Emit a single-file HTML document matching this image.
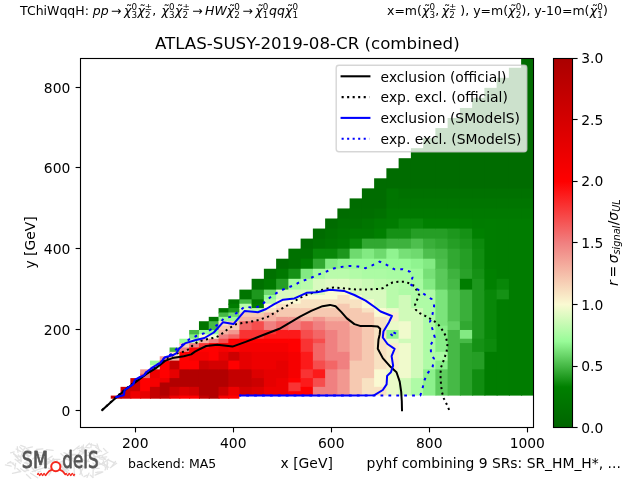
<!DOCTYPE html>
<html lang="en"><head><meta charset="utf-8"><title>ATLAS-SUSY-2019-08-CR (combined)</title>
<style>html,body{margin:0;padding:0;background:#fff;overflow:hidden}svg{display:block}text{font-family:'DejaVu Sans','Liberation Sans',sans-serif}</style></head><body>
<svg width="640" height="480" viewBox="0 0 640 480">
<rect x="0" y="0" width="640" height="480" fill="#fff"/>
<defs><clipPath id="axclip"><rect x="80.5" y="58.5" width="453" height="369"/></clipPath></defs>
<g clip-path="url(#axclip)">
<rect x="110.75" y="395.60" width="10.80" height="3.10" fill="#c40000"/>
<rect x="120.55" y="386.85" width="10.80" height="11.85" fill="#cc0000"/>
<rect x="130.35" y="378.10" width="10.80" height="14.12" fill="#cc0000"/>
<rect x="130.35" y="391.23" width="10.80" height="7.47" fill="#ee0000"/>
<rect x="140.15" y="369.35" width="10.80" height="5.38" fill="#f29890"/>
<rect x="140.15" y="373.73" width="10.80" height="5.38" fill="#f36666"/>
<rect x="140.15" y="378.10" width="10.80" height="14.12" fill="#ff0000"/>
<rect x="140.15" y="391.23" width="10.80" height="7.47" fill="#e60000"/>
<rect x="149.95" y="360.60" width="10.80" height="5.38" fill="#98fb98"/>
<rect x="149.95" y="364.98" width="10.80" height="5.38" fill="#d9fabf"/>
<rect x="149.95" y="369.35" width="10.80" height="9.75" fill="#ee0000"/>
<rect x="149.95" y="378.10" width="10.80" height="9.75" fill="#f60000"/>
<rect x="149.95" y="386.85" width="10.80" height="11.85" fill="#c40000"/>
<rect x="159.75" y="356.23" width="10.80" height="5.38" fill="#f29890"/>
<rect x="159.75" y="360.60" width="10.80" height="18.50" fill="#ff0000"/>
<rect x="159.75" y="378.10" width="10.80" height="5.38" fill="#ee0000"/>
<rect x="159.75" y="382.48" width="10.80" height="14.12" fill="#b20000"/>
<rect x="159.75" y="395.60" width="10.80" height="3.10" fill="#c40000"/>
<rect x="169.55" y="347.48" width="10.80" height="5.38" fill="#46b946"/>
<rect x="169.55" y="351.85" width="10.80" height="5.38" fill="#f8e2c2"/>
<rect x="169.55" y="356.23" width="10.80" height="5.38" fill="#f4b1a1"/>
<rect x="169.55" y="360.60" width="10.80" height="9.75" fill="#c40000"/>
<rect x="169.55" y="369.35" width="10.80" height="9.75" fill="#e60000"/>
<rect x="169.55" y="378.10" width="10.80" height="9.75" fill="#b20000"/>
<rect x="169.55" y="386.85" width="10.80" height="9.75" fill="#cc0000"/>
<rect x="169.55" y="395.60" width="10.80" height="3.10" fill="#ee0000"/>
<rect x="179.35" y="338.73" width="10.80" height="5.38" fill="#98fb98"/>
<rect x="179.35" y="343.10" width="10.80" height="5.38" fill="#f6c9b1"/>
<rect x="179.35" y="347.48" width="10.80" height="5.38" fill="#f08080"/>
<rect x="179.35" y="351.85" width="10.80" height="18.50" fill="#ff0000"/>
<rect x="179.35" y="369.35" width="10.80" height="18.50" fill="#b20000"/>
<rect x="179.35" y="386.85" width="10.80" height="9.75" fill="#dd0000"/>
<rect x="179.35" y="395.60" width="10.80" height="3.10" fill="#ff0000"/>
<rect x="189.15" y="329.98" width="10.80" height="5.38" fill="#46b946"/>
<rect x="189.15" y="334.35" width="10.80" height="5.38" fill="#83ea83"/>
<rect x="189.15" y="338.73" width="10.80" height="5.38" fill="#c9fab5"/>
<rect x="189.15" y="343.10" width="10.80" height="5.38" fill="#f08080"/>
<rect x="189.15" y="347.48" width="10.80" height="5.38" fill="#ff0000"/>
<rect x="189.15" y="351.85" width="10.80" height="9.75" fill="#f60000"/>
<rect x="189.15" y="360.60" width="10.80" height="9.75" fill="#ff0000"/>
<rect x="189.15" y="369.35" width="10.80" height="18.50" fill="#b20000"/>
<rect x="189.15" y="386.85" width="10.80" height="9.75" fill="#d40000"/>
<rect x="189.15" y="395.60" width="10.80" height="3.10" fill="#ff0000"/>
<rect x="198.95" y="321.23" width="10.80" height="9.75" fill="#007500"/>
<rect x="198.95" y="329.98" width="10.80" height="5.38" fill="#98fb98"/>
<rect x="198.95" y="334.35" width="10.80" height="5.38" fill="#fafad2"/>
<rect x="198.95" y="338.73" width="10.80" height="5.38" fill="#f4b1a1"/>
<rect x="198.95" y="343.10" width="10.80" height="5.38" fill="#f93333"/>
<rect x="198.95" y="347.48" width="10.80" height="5.38" fill="#ff0000"/>
<rect x="198.95" y="351.85" width="10.80" height="9.75" fill="#f60000"/>
<rect x="198.95" y="360.60" width="10.80" height="9.75" fill="#cc0000"/>
<rect x="198.95" y="369.35" width="10.80" height="27.25" fill="#b20000"/>
<rect x="198.95" y="395.60" width="10.80" height="3.10" fill="#c40000"/>
<rect x="208.75" y="316.85" width="10.80" height="5.38" fill="#007500"/>
<rect x="208.75" y="321.23" width="10.80" height="9.75" fill="#46b946"/>
<rect x="208.75" y="329.98" width="10.80" height="5.38" fill="#98fb98"/>
<rect x="208.75" y="334.35" width="10.80" height="5.38" fill="#fafad2"/>
<rect x="208.75" y="338.73" width="10.80" height="5.38" fill="#f08080"/>
<rect x="208.75" y="343.10" width="10.80" height="18.50" fill="#ff0000"/>
<rect x="208.75" y="360.60" width="10.80" height="9.75" fill="#d40000"/>
<rect x="208.75" y="369.35" width="10.80" height="29.35" fill="#b20000"/>
<rect x="218.55" y="308.10" width="10.80" height="5.38" fill="#007500"/>
<rect x="218.55" y="312.48" width="10.80" height="5.38" fill="#46b946"/>
<rect x="218.55" y="316.85" width="10.80" height="5.38" fill="#98fb98"/>
<rect x="218.55" y="321.23" width="10.80" height="5.38" fill="#f8e2c2"/>
<rect x="218.55" y="325.60" width="10.80" height="5.38" fill="#f6c9b1"/>
<rect x="218.55" y="329.98" width="10.80" height="5.38" fill="#f4b1a1"/>
<rect x="218.55" y="334.35" width="10.80" height="5.38" fill="#f08080"/>
<rect x="218.55" y="338.73" width="10.80" height="5.38" fill="#f64d4d"/>
<rect x="218.55" y="343.10" width="10.80" height="9.75" fill="#f60000"/>
<rect x="218.55" y="351.85" width="10.80" height="9.75" fill="#e60000"/>
<rect x="218.55" y="360.60" width="10.80" height="9.75" fill="#d40000"/>
<rect x="218.55" y="369.35" width="10.80" height="18.50" fill="#b20000"/>
<rect x="218.55" y="386.85" width="10.80" height="9.75" fill="#cc0000"/>
<rect x="218.55" y="395.60" width="10.80" height="3.10" fill="#f60000"/>
<rect x="228.35" y="299.35" width="12.03" height="5.38" fill="#007500"/>
<rect x="228.35" y="303.73" width="12.03" height="5.38" fill="#007d00"/>
<rect x="228.35" y="308.10" width="12.03" height="5.38" fill="#1d971d"/>
<rect x="228.35" y="312.48" width="12.03" height="5.38" fill="#6fda6f"/>
<rect x="228.35" y="316.85" width="12.03" height="5.38" fill="#98fb98"/>
<rect x="228.35" y="321.23" width="12.03" height="9.75" fill="#f6c9b1"/>
<rect x="228.35" y="329.98" width="12.03" height="5.38" fill="#f29890"/>
<rect x="228.35" y="334.35" width="12.03" height="5.38" fill="#f36666"/>
<rect x="228.35" y="338.73" width="12.03" height="14.12" fill="#ff0000"/>
<rect x="228.35" y="351.85" width="12.03" height="9.75" fill="#cc0000"/>
<rect x="228.35" y="360.60" width="12.03" height="9.75" fill="#ff0000"/>
<rect x="228.35" y="369.35" width="12.03" height="18.50" fill="#c40000"/>
<rect x="228.35" y="386.85" width="12.03" height="9.75" fill="#ee0000"/>
<rect x="228.35" y="395.59" width="11.03" height="3.11" fill="#ff0000"/>
<rect x="228.35" y="395.60" width="12.03" height="0.00" fill="#ff0000"/>
<rect x="239.38" y="289.60" width="13.25" height="10.75" fill="#007500"/>
<rect x="239.38" y="299.35" width="13.25" height="5.38" fill="#46b946"/>
<rect x="239.38" y="303.73" width="13.25" height="5.38" fill="#b9fbab"/>
<rect x="239.38" y="308.10" width="13.25" height="5.38" fill="#d9fabf"/>
<rect x="239.38" y="312.48" width="13.25" height="5.38" fill="#f6c9b1"/>
<rect x="239.38" y="316.85" width="13.25" height="5.38" fill="#f4b1a1"/>
<rect x="239.38" y="321.23" width="13.25" height="9.75" fill="#f36666"/>
<rect x="239.38" y="329.98" width="13.25" height="9.75" fill="#f93333"/>
<rect x="239.38" y="338.73" width="13.25" height="5.38" fill="#ff0000"/>
<rect x="239.38" y="343.10" width="13.25" height="9.75" fill="#f60000"/>
<rect x="239.38" y="351.85" width="13.25" height="18.50" fill="#e60000"/>
<rect x="239.38" y="369.35" width="13.25" height="18.50" fill="#c40000"/>
<rect x="239.38" y="386.85" width="13.25" height="8.75" fill="#d40000"/>
<rect x="251.62" y="278.80" width="13.25" height="11.80" fill="#007100"/>
<rect x="251.62" y="289.60" width="13.25" height="10.75" fill="#1d971d"/>
<rect x="251.62" y="299.35" width="13.25" height="5.38" fill="#007500"/>
<rect x="251.62" y="303.73" width="13.25" height="5.38" fill="#007d00"/>
<rect x="251.62" y="308.10" width="13.25" height="5.38" fill="#b9fbab"/>
<rect x="251.62" y="312.48" width="13.25" height="5.38" fill="#f6c9b1"/>
<rect x="251.62" y="316.85" width="13.25" height="5.38" fill="#f4b1a1"/>
<rect x="251.62" y="321.23" width="13.25" height="9.75" fill="#f64d4d"/>
<rect x="251.62" y="329.98" width="13.25" height="9.75" fill="#f93333"/>
<rect x="251.62" y="338.73" width="13.25" height="5.38" fill="#ff0000"/>
<rect x="251.62" y="343.10" width="13.25" height="9.75" fill="#f60000"/>
<rect x="251.62" y="351.85" width="13.25" height="18.50" fill="#ee0000"/>
<rect x="251.62" y="369.35" width="13.25" height="9.75" fill="#dd0000"/>
<rect x="251.62" y="378.10" width="13.25" height="9.75" fill="#cc0000"/>
<rect x="251.62" y="386.85" width="13.25" height="8.75" fill="#dd0000"/>
<rect x="263.88" y="268.75" width="13.25" height="11.05" fill="#007100"/>
<rect x="263.88" y="278.80" width="13.25" height="11.80" fill="#007900"/>
<rect x="263.88" y="289.60" width="13.25" height="6.38" fill="#6fda6f"/>
<rect x="263.88" y="294.98" width="13.25" height="5.38" fill="#98fb98"/>
<rect x="263.88" y="299.35" width="13.25" height="5.38" fill="#b9fbab"/>
<rect x="263.88" y="303.73" width="13.25" height="5.38" fill="#fafad2"/>
<rect x="263.88" y="308.10" width="13.25" height="5.38" fill="#f8e2c2"/>
<rect x="263.88" y="312.48" width="13.25" height="9.75" fill="#f4b1a1"/>
<rect x="263.88" y="321.23" width="13.25" height="9.75" fill="#f08080"/>
<rect x="263.88" y="329.98" width="13.25" height="5.38" fill="#f93333"/>
<rect x="263.88" y="334.35" width="13.25" height="5.38" fill="#fc1a1a"/>
<rect x="263.88" y="338.73" width="13.25" height="5.38" fill="#ff0000"/>
<rect x="263.88" y="343.10" width="13.25" height="9.75" fill="#f60000"/>
<rect x="263.88" y="351.85" width="13.25" height="18.50" fill="#ee0000"/>
<rect x="263.88" y="369.35" width="13.25" height="18.50" fill="#e60000"/>
<rect x="263.88" y="386.85" width="13.25" height="8.75" fill="#ee0000"/>
<rect x="276.12" y="258.70" width="13.25" height="11.05" fill="#006c00"/>
<rect x="276.12" y="268.75" width="13.25" height="11.05" fill="#007900"/>
<rect x="276.12" y="278.80" width="13.25" height="11.80" fill="#259e25"/>
<rect x="276.12" y="289.60" width="13.25" height="10.75" fill="#d9fabf"/>
<rect x="276.12" y="299.35" width="13.25" height="5.38" fill="#fafad2"/>
<rect x="276.12" y="303.73" width="13.25" height="5.38" fill="#f8e2c2"/>
<rect x="276.12" y="308.10" width="13.25" height="9.75" fill="#f6c9b1"/>
<rect x="276.12" y="316.85" width="13.25" height="5.38" fill="#f29890"/>
<rect x="276.12" y="321.23" width="13.25" height="9.75" fill="#f36666"/>
<rect x="276.12" y="329.98" width="13.25" height="9.75" fill="#fc1a1a"/>
<rect x="276.12" y="338.73" width="13.25" height="5.38" fill="#ff0000"/>
<rect x="276.12" y="343.10" width="13.25" height="9.75" fill="#f60000"/>
<rect x="276.12" y="351.85" width="13.25" height="9.75" fill="#ee0000"/>
<rect x="276.12" y="360.60" width="13.25" height="18.50" fill="#e60000"/>
<rect x="276.12" y="378.10" width="13.25" height="17.50" fill="#ee0000"/>
<rect x="288.38" y="248.65" width="13.25" height="21.10" fill="#007100"/>
<rect x="288.38" y="268.75" width="13.25" height="11.05" fill="#159115"/>
<rect x="288.38" y="278.80" width="13.25" height="11.80" fill="#a8fba2"/>
<rect x="288.38" y="289.60" width="13.25" height="10.75" fill="#d9fabf"/>
<rect x="288.38" y="299.35" width="13.25" height="5.38" fill="#fafad2"/>
<rect x="288.38" y="303.73" width="13.25" height="5.38" fill="#f8e2c2"/>
<rect x="288.38" y="308.10" width="13.25" height="9.75" fill="#f6c9b1"/>
<rect x="288.38" y="316.85" width="13.25" height="5.38" fill="#f29890"/>
<rect x="288.38" y="321.23" width="13.25" height="9.75" fill="#f08080"/>
<rect x="288.38" y="329.98" width="13.25" height="9.75" fill="#fc1a1a"/>
<rect x="288.38" y="338.73" width="13.25" height="14.12" fill="#ff0000"/>
<rect x="288.38" y="351.85" width="13.25" height="27.25" fill="#f60000"/>
<rect x="288.38" y="378.10" width="13.25" height="5.38" fill="#ff0000"/>
<rect x="288.38" y="382.48" width="13.25" height="9.75" fill="#f93333"/>
<rect x="288.38" y="391.23" width="13.25" height="4.38" fill="#ff0000"/>
<rect x="300.62" y="238.60" width="13.25" height="11.05" fill="#006c00"/>
<rect x="300.62" y="248.65" width="13.25" height="11.05" fill="#007100"/>
<rect x="300.62" y="258.70" width="13.25" height="11.05" fill="#007d00"/>
<rect x="300.62" y="268.75" width="13.25" height="11.05" fill="#83ea83"/>
<rect x="300.62" y="278.80" width="13.25" height="11.80" fill="#b9fbab"/>
<rect x="300.62" y="289.60" width="13.25" height="6.38" fill="#d9fabf"/>
<rect x="300.62" y="294.98" width="13.25" height="5.38" fill="#fafad2"/>
<rect x="300.62" y="299.35" width="13.25" height="9.75" fill="#f8e2c2"/>
<rect x="300.62" y="308.10" width="13.25" height="9.75" fill="#f6c9b1"/>
<rect x="300.62" y="316.85" width="13.25" height="5.38" fill="#f4b1a1"/>
<rect x="300.62" y="321.23" width="13.25" height="9.75" fill="#f36666"/>
<rect x="300.62" y="329.98" width="13.25" height="9.75" fill="#f64d4d"/>
<rect x="300.62" y="338.73" width="13.25" height="14.12" fill="#f93333"/>
<rect x="300.62" y="351.85" width="13.25" height="18.50" fill="#fc1a1a"/>
<rect x="300.62" y="369.35" width="13.25" height="9.75" fill="#f93333"/>
<rect x="300.62" y="378.10" width="13.25" height="9.75" fill="#fc1a1a"/>
<rect x="300.62" y="386.85" width="13.25" height="8.75" fill="#ff0000"/>
<rect x="312.88" y="228.55" width="13.25" height="11.05" fill="#006c00"/>
<rect x="312.88" y="238.60" width="13.25" height="11.05" fill="#007100"/>
<rect x="312.88" y="248.65" width="13.25" height="11.05" fill="#088708"/>
<rect x="312.88" y="258.70" width="13.25" height="11.05" fill="#31a831"/>
<rect x="312.88" y="268.75" width="13.25" height="11.05" fill="#a8fba2"/>
<rect x="312.88" y="278.80" width="13.25" height="17.18" fill="#d9fabf"/>
<rect x="312.88" y="294.98" width="13.25" height="5.38" fill="#fafad2"/>
<rect x="312.88" y="299.35" width="13.25" height="9.75" fill="#f8e2c2"/>
<rect x="312.88" y="308.10" width="13.25" height="9.75" fill="#f6c9b1"/>
<rect x="312.88" y="316.85" width="13.25" height="5.38" fill="#f29890"/>
<rect x="312.88" y="321.23" width="13.25" height="9.75" fill="#f08080"/>
<rect x="312.88" y="329.98" width="13.25" height="9.75" fill="#f36666"/>
<rect x="312.88" y="338.73" width="13.25" height="5.38" fill="#f64d4d"/>
<rect x="312.88" y="343.10" width="13.25" height="18.50" fill="#f36666"/>
<rect x="312.88" y="360.60" width="13.25" height="9.75" fill="#f64d4d"/>
<rect x="312.88" y="369.35" width="13.25" height="9.75" fill="#fc1a1a"/>
<rect x="312.88" y="378.10" width="13.25" height="9.75" fill="#f64d4d"/>
<rect x="312.88" y="386.85" width="13.25" height="8.75" fill="#f08080"/>
<rect x="325.12" y="218.50" width="13.25" height="11.05" fill="#006c00"/>
<rect x="325.12" y="228.55" width="13.25" height="11.05" fill="#007100"/>
<rect x="325.12" y="238.60" width="13.25" height="11.05" fill="#007500"/>
<rect x="325.12" y="248.65" width="13.25" height="11.05" fill="#088708"/>
<rect x="325.12" y="258.70" width="13.25" height="11.05" fill="#83ea83"/>
<rect x="325.12" y="268.75" width="13.25" height="11.05" fill="#b9fbab"/>
<rect x="325.12" y="278.80" width="13.25" height="11.80" fill="#e0fac3"/>
<rect x="325.12" y="289.60" width="13.25" height="10.75" fill="#fafad2"/>
<rect x="325.12" y="299.35" width="13.25" height="9.75" fill="#f8e2c2"/>
<rect x="325.12" y="308.10" width="13.25" height="9.75" fill="#f6c9b1"/>
<rect x="325.12" y="316.85" width="13.25" height="5.38" fill="#f4b1a1"/>
<rect x="325.12" y="321.23" width="13.25" height="9.75" fill="#f29890"/>
<rect x="325.12" y="329.98" width="13.25" height="31.62" fill="#f08080"/>
<rect x="325.12" y="360.60" width="13.25" height="9.75" fill="#f36666"/>
<rect x="325.12" y="369.35" width="13.25" height="26.25" fill="#f08080"/>
<rect x="337.38" y="208.45" width="13.25" height="11.05" fill="#006c00"/>
<rect x="337.38" y="218.50" width="13.25" height="11.05" fill="#007100"/>
<rect x="337.38" y="228.55" width="13.25" height="11.05" fill="#007500"/>
<rect x="337.38" y="238.60" width="13.25" height="11.05" fill="#007900"/>
<rect x="337.38" y="248.65" width="13.25" height="11.05" fill="#1d971d"/>
<rect x="337.38" y="258.70" width="13.25" height="11.05" fill="#90f490"/>
<rect x="337.38" y="268.75" width="13.25" height="11.05" fill="#b9fbab"/>
<rect x="337.38" y="278.80" width="13.25" height="11.80" fill="#e0fac3"/>
<rect x="337.38" y="289.60" width="13.25" height="6.38" fill="#fafad2"/>
<rect x="337.38" y="294.98" width="13.25" height="9.75" fill="#f8e2c2"/>
<rect x="337.38" y="303.73" width="13.25" height="14.12" fill="#f6c9b1"/>
<rect x="337.38" y="316.85" width="13.25" height="5.38" fill="#f4b1a1"/>
<rect x="337.38" y="321.23" width="13.25" height="31.62" fill="#f29890"/>
<rect x="337.38" y="351.85" width="13.25" height="18.50" fill="#f08080"/>
<rect x="337.38" y="369.35" width="13.25" height="26.25" fill="#f29890"/>
<rect x="349.62" y="198.40" width="13.25" height="11.05" fill="#006c00"/>
<rect x="349.62" y="208.45" width="13.25" height="11.05" fill="#006e00"/>
<rect x="349.62" y="218.50" width="13.25" height="11.05" fill="#007100"/>
<rect x="349.62" y="228.55" width="13.25" height="11.05" fill="#007900"/>
<rect x="349.62" y="238.60" width="13.25" height="11.05" fill="#088708"/>
<rect x="349.62" y="248.65" width="13.25" height="11.05" fill="#6fda6f"/>
<rect x="349.62" y="258.70" width="13.25" height="11.05" fill="#98fb98"/>
<rect x="349.62" y="268.75" width="13.25" height="11.05" fill="#b2fba7"/>
<rect x="349.62" y="278.80" width="13.25" height="11.80" fill="#d3fabb"/>
<rect x="349.62" y="289.60" width="13.25" height="6.38" fill="#d9fabf"/>
<rect x="349.62" y="294.98" width="13.25" height="5.38" fill="#fafad2"/>
<rect x="349.62" y="299.35" width="13.25" height="9.75" fill="#f8e2c2"/>
<rect x="349.62" y="308.10" width="13.25" height="18.50" fill="#f6c9b1"/>
<rect x="349.62" y="325.60" width="13.25" height="36.00" fill="#f4b1a1"/>
<rect x="349.62" y="360.60" width="13.25" height="35.00" fill="#f6c9b1"/>
<rect x="361.88" y="188.35" width="13.25" height="21.10" fill="#006c00"/>
<rect x="361.88" y="208.45" width="13.25" height="11.05" fill="#006e00"/>
<rect x="361.88" y="218.50" width="13.25" height="11.05" fill="#007500"/>
<rect x="361.88" y="228.55" width="13.25" height="11.05" fill="#007900"/>
<rect x="361.88" y="238.60" width="13.25" height="11.05" fill="#31a831"/>
<rect x="361.88" y="248.65" width="13.25" height="11.05" fill="#83ea83"/>
<rect x="361.88" y="258.70" width="13.25" height="11.05" fill="#98fb98"/>
<rect x="361.88" y="268.75" width="13.25" height="11.05" fill="#acfba4"/>
<rect x="361.88" y="278.80" width="13.25" height="11.80" fill="#c9fab5"/>
<rect x="361.88" y="289.60" width="13.25" height="10.75" fill="#d9fabf"/>
<rect x="361.88" y="299.35" width="13.25" height="9.75" fill="#fafad2"/>
<rect x="361.88" y="308.10" width="13.25" height="5.38" fill="#f8e2c2"/>
<rect x="361.88" y="312.48" width="13.25" height="66.62" fill="#f6c9b1"/>
<rect x="361.88" y="378.10" width="13.25" height="17.50" fill="#f8e2c2"/>
<rect x="374.12" y="178.30" width="13.25" height="31.15" fill="#006c00"/>
<rect x="374.12" y="208.45" width="13.25" height="11.05" fill="#007100"/>
<rect x="374.12" y="218.50" width="13.25" height="11.05" fill="#007a00"/>
<rect x="374.12" y="228.55" width="13.25" height="11.05" fill="#007f00"/>
<rect x="374.12" y="238.60" width="13.25" height="11.05" fill="#31a831"/>
<rect x="374.12" y="248.65" width="13.25" height="11.05" fill="#6fda6f"/>
<rect x="374.12" y="258.70" width="13.25" height="11.05" fill="#98fb98"/>
<rect x="374.12" y="268.75" width="13.25" height="11.05" fill="#acfba4"/>
<rect x="374.12" y="278.80" width="13.25" height="11.80" fill="#bffbaf"/>
<rect x="374.12" y="289.60" width="13.25" height="19.50" fill="#d9fabf"/>
<rect x="374.12" y="308.10" width="13.25" height="9.75" fill="#fafad2"/>
<rect x="374.12" y="316.85" width="13.25" height="53.50" fill="#f8e2c2"/>
<rect x="374.12" y="369.35" width="13.25" height="18.50" fill="#fafad2"/>
<rect x="374.12" y="386.85" width="13.25" height="8.75" fill="#f8e2c2"/>
<rect x="386.38" y="168.25" width="13.25" height="21.10" fill="#006c00"/>
<rect x="386.38" y="188.35" width="13.25" height="21.10" fill="#007500"/>
<rect x="386.38" y="208.45" width="13.25" height="11.05" fill="#007900"/>
<rect x="386.38" y="218.50" width="13.25" height="11.05" fill="#007c00"/>
<rect x="386.38" y="228.55" width="13.25" height="11.05" fill="#159115"/>
<rect x="386.38" y="238.60" width="13.25" height="11.05" fill="#3eb23e"/>
<rect x="386.38" y="248.65" width="13.25" height="11.05" fill="#90f490"/>
<rect x="386.38" y="258.70" width="13.25" height="11.05" fill="#98fb98"/>
<rect x="386.38" y="268.75" width="13.25" height="11.05" fill="#a8fba2"/>
<rect x="386.38" y="278.80" width="13.25" height="30.30" fill="#b9fbab"/>
<rect x="386.38" y="308.10" width="13.25" height="5.38" fill="#eafac8"/>
<rect x="386.38" y="312.48" width="13.25" height="9.75" fill="#f9eeca"/>
<rect x="386.38" y="321.23" width="13.25" height="9.75" fill="#eafac8"/>
<rect x="386.38" y="329.98" width="13.25" height="9.75" fill="#90f490"/>
<rect x="386.38" y="338.73" width="13.25" height="5.38" fill="#eafac8"/>
<rect x="386.38" y="343.10" width="13.25" height="27.25" fill="#f9eeca"/>
<rect x="386.38" y="369.35" width="13.25" height="26.25" fill="#eafac8"/>
<rect x="398.62" y="158.20" width="13.25" height="31.15" fill="#006c00"/>
<rect x="398.62" y="188.35" width="13.25" height="11.05" fill="#007100"/>
<rect x="398.62" y="198.40" width="13.25" height="11.05" fill="#007500"/>
<rect x="398.62" y="208.45" width="13.25" height="11.05" fill="#007900"/>
<rect x="398.62" y="218.50" width="13.25" height="11.05" fill="#088708"/>
<rect x="398.62" y="228.55" width="13.25" height="11.05" fill="#159115"/>
<rect x="398.62" y="238.60" width="13.25" height="11.05" fill="#3eb23e"/>
<rect x="398.62" y="248.65" width="13.25" height="11.05" fill="#77e077"/>
<rect x="398.62" y="258.70" width="13.25" height="11.05" fill="#98fb98"/>
<rect x="398.62" y="268.75" width="13.25" height="11.05" fill="#a8fba2"/>
<rect x="398.62" y="278.80" width="13.25" height="11.80" fill="#b2fba7"/>
<rect x="398.62" y="289.60" width="13.25" height="6.38" fill="#affba6"/>
<rect x="398.62" y="294.98" width="13.25" height="27.25" fill="#d0fab9"/>
<rect x="398.62" y="321.23" width="13.25" height="18.50" fill="#f0facc"/>
<rect x="398.62" y="338.73" width="13.25" height="5.38" fill="#d0fab9"/>
<rect x="398.62" y="343.10" width="13.25" height="36.00" fill="#f0facc"/>
<rect x="398.62" y="378.10" width="13.25" height="17.50" fill="#d0fab9"/>
<rect x="410.88" y="148.15" width="13.25" height="41.20" fill="#006c00"/>
<rect x="410.88" y="188.35" width="13.25" height="11.05" fill="#007100"/>
<rect x="410.88" y="198.40" width="13.25" height="11.05" fill="#007500"/>
<rect x="410.88" y="208.45" width="13.25" height="11.05" fill="#007900"/>
<rect x="410.88" y="218.50" width="13.25" height="11.05" fill="#088708"/>
<rect x="410.88" y="228.55" width="13.25" height="11.05" fill="#259e25"/>
<rect x="410.88" y="238.60" width="13.25" height="11.05" fill="#4ebf4e"/>
<rect x="410.88" y="248.65" width="13.25" height="11.05" fill="#6fda6f"/>
<rect x="410.88" y="258.70" width="13.25" height="11.05" fill="#90f490"/>
<rect x="410.88" y="268.75" width="13.25" height="11.05" fill="#9ffb9c"/>
<rect x="410.88" y="278.80" width="13.25" height="11.80" fill="#a8fba2"/>
<rect x="410.88" y="289.60" width="13.25" height="19.50" fill="#affba6"/>
<rect x="410.88" y="308.10" width="13.25" height="71.00" fill="#d0fab9"/>
<rect x="410.88" y="378.10" width="13.25" height="17.50" fill="#affba6"/>
<rect x="423.12" y="138.10" width="13.25" height="51.25" fill="#006c00"/>
<rect x="423.12" y="188.35" width="13.25" height="11.05" fill="#007100"/>
<rect x="423.12" y="198.40" width="13.25" height="11.05" fill="#007500"/>
<rect x="423.12" y="208.45" width="13.25" height="11.05" fill="#007900"/>
<rect x="423.12" y="218.50" width="13.25" height="11.05" fill="#008000"/>
<rect x="423.12" y="228.55" width="13.25" height="11.05" fill="#259e25"/>
<rect x="423.12" y="238.60" width="13.25" height="11.05" fill="#3aaf3a"/>
<rect x="423.12" y="248.65" width="13.25" height="11.05" fill="#4ebf4e"/>
<rect x="423.12" y="258.70" width="13.25" height="11.05" fill="#83ea83"/>
<rect x="423.12" y="268.75" width="13.25" height="11.05" fill="#77e077"/>
<rect x="423.12" y="278.80" width="13.25" height="11.80" fill="#83ea83"/>
<rect x="423.12" y="289.60" width="13.25" height="80.75" fill="#affba6"/>
<rect x="423.12" y="369.35" width="13.25" height="26.25" fill="#8cf18c"/>
<rect x="435.38" y="128.05" width="13.25" height="61.30" fill="#006c00"/>
<rect x="435.38" y="188.35" width="13.25" height="11.05" fill="#007100"/>
<rect x="435.38" y="198.40" width="13.25" height="11.05" fill="#007500"/>
<rect x="435.38" y="208.45" width="13.25" height="11.05" fill="#007900"/>
<rect x="435.38" y="218.50" width="13.25" height="11.05" fill="#008000"/>
<rect x="435.38" y="228.55" width="13.25" height="11.05" fill="#259e25"/>
<rect x="435.38" y="238.60" width="13.25" height="11.05" fill="#31a831"/>
<rect x="435.38" y="248.65" width="13.25" height="11.05" fill="#46b946"/>
<rect x="435.38" y="258.70" width="13.25" height="11.05" fill="#4ebf4e"/>
<rect x="435.38" y="268.75" width="13.25" height="21.85" fill="#5ac95a"/>
<rect x="435.38" y="289.60" width="13.25" height="37.00" fill="#7be47b"/>
<rect x="435.38" y="325.60" width="13.25" height="27.25" fill="#88ee88"/>
<rect x="435.38" y="351.85" width="13.25" height="9.75" fill="#acfba4"/>
<rect x="435.38" y="360.60" width="13.25" height="9.75" fill="#88ee88"/>
<rect x="435.38" y="369.35" width="13.25" height="26.25" fill="#5ecc5e"/>
<rect x="447.62" y="118.00" width="13.25" height="71.35" fill="#006c00"/>
<rect x="447.62" y="188.35" width="13.25" height="11.05" fill="#007100"/>
<rect x="447.62" y="198.40" width="13.25" height="11.05" fill="#007500"/>
<rect x="447.62" y="208.45" width="13.25" height="11.05" fill="#007900"/>
<rect x="447.62" y="218.50" width="13.25" height="11.05" fill="#008000"/>
<rect x="447.62" y="228.55" width="13.25" height="11.05" fill="#1d971d"/>
<rect x="447.62" y="238.60" width="13.25" height="11.05" fill="#259e25"/>
<rect x="447.62" y="248.65" width="13.25" height="21.10" fill="#31a831"/>
<rect x="447.62" y="268.75" width="13.25" height="11.05" fill="#3eb23e"/>
<rect x="447.62" y="278.80" width="13.25" height="11.80" fill="#46b946"/>
<rect x="447.62" y="289.60" width="13.25" height="32.62" fill="#52c252"/>
<rect x="447.62" y="321.23" width="13.25" height="9.75" fill="#63d063"/>
<rect x="447.62" y="329.98" width="13.25" height="65.62" fill="#46b946"/>
<rect x="459.88" y="107.95" width="13.25" height="81.40" fill="#006c00"/>
<rect x="459.88" y="188.35" width="13.25" height="11.05" fill="#007100"/>
<rect x="459.88" y="198.40" width="13.25" height="11.05" fill="#007500"/>
<rect x="459.88" y="208.45" width="13.25" height="11.05" fill="#007900"/>
<rect x="459.88" y="218.50" width="13.25" height="11.05" fill="#007f00"/>
<rect x="459.88" y="228.55" width="13.25" height="11.05" fill="#159115"/>
<rect x="459.88" y="238.60" width="13.25" height="11.05" fill="#1d971d"/>
<rect x="459.88" y="248.65" width="13.25" height="21.10" fill="#259e25"/>
<rect x="459.88" y="268.75" width="13.25" height="11.05" fill="#29a129"/>
<rect x="459.88" y="278.80" width="13.25" height="11.80" fill="#007d00"/>
<rect x="459.88" y="289.60" width="13.25" height="32.62" fill="#3aaf3a"/>
<rect x="459.88" y="321.23" width="13.25" height="9.75" fill="#31a831"/>
<rect x="459.88" y="329.98" width="13.25" height="9.75" fill="#83ea83"/>
<rect x="459.88" y="338.73" width="13.25" height="5.38" fill="#46b946"/>
<rect x="459.88" y="343.10" width="13.25" height="52.50" fill="#29a129"/>
<rect x="472.12" y="97.90" width="13.25" height="91.45" fill="#006c00"/>
<rect x="472.12" y="188.35" width="13.25" height="11.05" fill="#007100"/>
<rect x="472.12" y="198.40" width="13.25" height="11.05" fill="#007500"/>
<rect x="472.12" y="208.45" width="13.25" height="11.05" fill="#007900"/>
<rect x="472.12" y="218.50" width="13.25" height="11.05" fill="#007c00"/>
<rect x="472.12" y="228.55" width="13.25" height="11.05" fill="#008000"/>
<rect x="472.12" y="238.60" width="13.25" height="11.05" fill="#0c8a0c"/>
<rect x="472.12" y="248.65" width="13.25" height="21.10" fill="#108d10"/>
<rect x="472.12" y="268.75" width="13.25" height="11.05" fill="#159115"/>
<rect x="472.12" y="278.80" width="13.25" height="60.93" fill="#1d971d"/>
<rect x="472.12" y="338.73" width="13.25" height="14.12" fill="#159115"/>
<rect x="472.12" y="351.85" width="13.25" height="18.50" fill="#259e25"/>
<rect x="472.12" y="369.35" width="13.25" height="26.25" fill="#108d10"/>
<rect x="484.38" y="87.85" width="13.25" height="101.50" fill="#006c00"/>
<rect x="484.38" y="188.35" width="13.25" height="11.05" fill="#007100"/>
<rect x="484.38" y="198.40" width="13.25" height="11.05" fill="#007500"/>
<rect x="484.38" y="208.45" width="13.25" height="11.05" fill="#007900"/>
<rect x="484.38" y="218.50" width="13.25" height="51.25" fill="#007d00"/>
<rect x="484.38" y="268.75" width="13.25" height="21.85" fill="#008000"/>
<rect x="484.38" y="289.60" width="13.25" height="50.12" fill="#088708"/>
<rect x="484.38" y="338.73" width="13.25" height="14.12" fill="#0c8a0c"/>
<rect x="484.38" y="351.85" width="13.25" height="43.75" fill="#007d00"/>
<rect x="496.62" y="77.80" width="13.25" height="111.55" fill="#006c00"/>
<rect x="496.62" y="188.35" width="13.25" height="11.05" fill="#007100"/>
<rect x="496.62" y="198.40" width="13.25" height="11.05" fill="#007500"/>
<rect x="496.62" y="208.45" width="13.25" height="11.05" fill="#007900"/>
<rect x="496.62" y="218.50" width="13.25" height="61.30" fill="#007c00"/>
<rect x="496.62" y="278.80" width="13.25" height="11.80" fill="#088708"/>
<rect x="496.62" y="289.60" width="13.25" height="10.75" fill="#159115"/>
<rect x="496.62" y="299.35" width="13.25" height="96.25" fill="#007d00"/>
<rect x="508.88" y="67.75" width="13.25" height="121.60" fill="#006c00"/>
<rect x="508.88" y="188.35" width="13.25" height="11.05" fill="#007100"/>
<rect x="508.88" y="198.40" width="13.25" height="11.05" fill="#007500"/>
<rect x="508.88" y="208.45" width="13.25" height="11.05" fill="#007900"/>
<rect x="508.88" y="218.50" width="13.25" height="177.10" fill="#007c00"/>
<rect x="521.12" y="57.70" width="13.25" height="131.65" fill="#006c00"/>
<rect x="521.12" y="188.35" width="13.25" height="11.05" fill="#007100"/>
<rect x="521.12" y="198.40" width="13.25" height="11.05" fill="#007500"/>
<rect x="521.12" y="208.45" width="13.25" height="11.05" fill="#007900"/>
<rect x="521.12" y="218.50" width="13.25" height="177.10" fill="#007c00"/>
</g>
<g fill="none" stroke-linejoin="round">
<path d="M102.2 410.1 L116.2 397.5 L127.5 388.1 L146.2 374.1 L155.6 368.4 L165.0 360.9 L172.5 358.1 L183.8 356.2 L191.2 354.4 L195.0 351.6 L198.8 349.7 L206.2 346.0 L217.5 344.7 L232.5 346.6 L245.6 341.9 L262.5 335.3 L279.4 328.8 L292.5 321.2 L300.0 316.6 L311.2 310.9 L322.5 306.2 L330.0 304.9 L335.6 306.2 L341.2 311.9 L346.9 318.4 L354.4 324.1 L360.0 325.9 L371.2 325.9 L377.8 326.5 L380.2 328.8 L379.7 334.4 L378.5 339.4 L377.8 348.8 L382.8 358.1 L390.3 366.6 L396.5 372.2 L399.7 381.6 L401.2 391.9 L401.8 401.2 L402.0 410.2" stroke="#000" stroke-width="2.00" stroke-linecap="square"/>
<path d="M102.2 410.1 L116.2 397.0 L127.5 387.6 L146.2 373.0 L155.6 366.5 L165.0 359.2 L172.0 355.5 L178.8 352.8 L184.4 351.5 L189.1 349.0 L193.1 345.0 L197.5 342.1 L202.5 340.4 L208.1 339.0 L213.8 337.8 L218.4 336.2 L223.1 332.9 L227.8 329.1 L235.3 324.4 L241.9 323.1 L251.2 321.6 L258.8 319.9 L268.1 316.6 L275.6 312.2 L283.1 307.8 L292.5 302.5 L300.0 297.8 L307.5 294.6 L317.8 290.9 L328.1 288.4 L333.8 287.5 L345.0 288.4 L356.2 289.4 L367.5 289.4 L378.8 289.0 L383.4 288.0 L387.5 285.0 L392.5 282.5 L398.3 281.7 L404.2 281.7 L409.2 283.3 L414.2 285.8 L419.2 295.0 L417.0 300.0 L415.0 305.0 L415.8 309.7 L420.0 313.3 L425.0 315.8 L430.0 318.7 L435.0 321.7 L438.7 325.0 L442.0 329.6 L445.6 335.6 L447.5 344.0 L446.6 351.6 L443.8 360.0 L441.0 367.5 L440.4 375.0 L441.0 384.4 L441.9 391.9 L443.8 398.4 L446.6 404.0 L449.3 410.2" stroke="#000" stroke-width="2.00" stroke-dasharray="2.08 3.44" stroke-linecap="butt"/>
<path d="M116.2 397.0 L123.8 395.2 L124.7 390.0 L133.1 384.4 L135.0 379.7 L144.4 375.0 L146.2 372.2 L153.8 366.6 L160.3 362.8 L165.0 357.2 L172.5 355.3 L176.2 353.4 L179.0 348.8 L185.6 343.1 L195.0 340.2 L204.4 338.0 L213.8 332.5 L223.1 322.2 L233.4 324.1 L244.7 310.9 L257.8 312.2 L266.2 309.0 L273.8 304.4 L283.1 299.7 L294.4 298.4 L300.0 295.9 L306.6 292.8 L316.9 292.2 L330.0 289.8 L344.0 290.9 L354.4 295.0 L365.6 300.6 L375.0 307.2 L380.6 311.5 L391.9 316.0 L389.0 322.2 L383.4 331.6 L382.8 337.5 L387.5 344.0 L394.6 348.8 L391.6 356.2 L393.1 365.6 L390.9 372.2 L387.1 375.9 L386.6 384.4 L382.8 390.0 L374.4 395.2 L350.0 395.6 L240.0 395.6" stroke="#00f" stroke-width="2.00" stroke-linecap="square"/>
<path d="M116.2 397.0 L123.8 395.2 L124.7 390.0 L133.1 384.4 L135.0 379.7 L144.4 375.0 L146.2 372.2 L153.8 366.6 L160.3 362.8 L165.0 357.2 L172.5 353.5 L176.9 348.5 L183.8 343.8 L189.1 339.4 L196.2 336.0 L204.4 333.1 L211.6 329.1 L218.4 324.0 L224.0 318.4 L231.6 316.6 L238.1 311.9 L244.7 306.6 L253.1 307.8 L260.6 306.2 L266.2 300.6 L271.9 295.9 L279.4 291.2 L286.9 287.9 L294.4 285.2 L300.0 281.9 L309.4 278.5 L318.8 274.4 L326.2 271.6 L333.8 268.4 L341.2 266.9 L349.7 265.9 L358.1 266.5 L365.6 268.2 L372.2 265.4 L379.7 261.6 L387.5 265.3 L394.2 269.2 L402.5 269.2 L410.0 271.7 L412.5 277.5 L410.3 284.2 L417.5 289.2 L424.2 294.2 L431.7 299.2 L434.2 305.8 L432.5 314.2 L430.0 321.7 L432.5 329.2 L434.8 337.5 L430.6 345.0 L431.0 352.5 L434.0 359.0 L432.5 367.5 L426.9 374.0 L424.0 381.6 L422.2 390.0 L420.3 395.4 L374.4 395.6 L240.0 395.6" stroke="#00f" stroke-width="2.00" stroke-dasharray="2.8 5.1" stroke-linecap="butt"/>
<path d="M390.5 334.0 L393.5 336.3 L396.3 333.8 L393.2 332.2 L390.5 334.0" stroke="#00f" stroke-width="2.00" stroke-dasharray="2.8 5.1" stroke-linecap="butt"/>
</g>
<rect x="80.5" y="58.5" width="453" height="369" fill="none" stroke="#000" stroke-width="1.11"/>
<g stroke="#000" stroke-width="1.11">
<line x1="135.5" y1="428" x2="135.5" y2="432.4"/>
<line x1="233.5" y1="428" x2="233.5" y2="432.4"/>
<line x1="331.5" y1="428" x2="331.5" y2="432.4"/>
<line x1="429.5" y1="428" x2="429.5" y2="432.4"/>
<line x1="527.5" y1="428" x2="527.5" y2="432.4"/>
<line x1="75.6" y1="410.5" x2="80" y2="410.5"/>
<line x1="75.6" y1="329.5" x2="80" y2="329.5"/>
<line x1="75.6" y1="248.5" x2="80" y2="248.5"/>
<line x1="75.6" y1="167.5" x2="80" y2="167.5"/>
<line x1="75.6" y1="87.5" x2="80" y2="87.5"/>
</g>
<g font-size="13.89px">
<text x="135.30" y="447.5" text-anchor="middle">200</text>
<text x="233.30" y="447.5" text-anchor="middle">400</text>
<text x="331.30" y="447.5" text-anchor="middle">600</text>
<text x="429.30" y="447.5" text-anchor="middle">800</text>
<text x="527.30" y="447.5" text-anchor="middle">1000</text>
<text x="70.3" y="415.60" text-anchor="end">0</text>
<text x="70.3" y="334.60" text-anchor="end">200</text>
<text x="70.3" y="253.60" text-anchor="end">400</text>
<text x="70.3" y="172.60" text-anchor="end">600</text>
<text x="70.3" y="92.60" text-anchor="end">800</text>
<text x="306.7" y="468.2" text-anchor="middle">x [GeV]</text>
<text transform="translate(35.3 242.4) rotate(-90)" text-anchor="middle">y [GeV]</text>
</g>
<text x="307.3" y="48.8" font-size="16.67px" text-anchor="middle">ATLAS-SUSY-2019-08-CR (combined)</text>
<rect x="336.2" y="65.2" width="190.6" height="86.6" rx="2.8" ry="2.8" fill="#fff" fill-opacity="0.8" stroke="#ccc" stroke-opacity="0.8" stroke-width="1.39"/>
<line x1="341.6" y1="76.3" x2="369.4" y2="76.3" stroke="#000" stroke-width="2.08" stroke-linecap="square"/>
<text x="380.6" y="81.60" font-size="13.89px">exclusion (official)</text>
<line x1="341.6" y1="97.1" x2="369.4" y2="97.1" stroke="#000" stroke-width="2.08" stroke-dasharray="2.08 3.44"/>
<text x="380.6" y="102.40" font-size="13.89px">exp. excl. (official)</text>
<line x1="341.6" y1="117.9" x2="369.4" y2="117.9" stroke="#00f" stroke-width="2.08" stroke-linecap="square"/>
<text x="380.6" y="123.20" font-size="13.89px">exclusion (SModelS)</text>
<line x1="341.6" y1="138.7" x2="369.4" y2="138.7" stroke="#00f" stroke-width="2.08" stroke-dasharray="2.08 3.44"/>
<text x="380.6" y="144.00" font-size="13.89px">exp. excl. (SModelS)</text>
<defs><linearGradient id="cb" x1="0" y1="1" x2="0" y2="0">
<stop offset="0.0000" stop-color="#006400"/>
<stop offset="0.1100" stop-color="#008000"/>
<stop offset="0.2333" stop-color="#98fb98"/>
<stop offset="0.3333" stop-color="#fafad2"/>
<stop offset="0.5000" stop-color="#f08080"/>
<stop offset="0.6667" stop-color="#ff0000"/>
<stop offset="1.0000" stop-color="#aa0000"/>
</linearGradient></defs>
<rect x="553.5" y="58.5" width="19" height="369" fill="url(#cb)"/>
<rect x="553.5" y="58.5" width="19" height="369" fill="none" stroke="#000" stroke-width="1.11"/>
<g stroke="#000" stroke-width="1.11">
<line x1="572.5" y1="427.5" x2="577.6" y2="427.5"/>
<line x1="572.5" y1="366.5" x2="577.6" y2="366.5"/>
<line x1="572.5" y1="304.5" x2="577.6" y2="304.5"/>
<line x1="572.5" y1="242.5" x2="577.6" y2="242.5"/>
<line x1="572.5" y1="181.5" x2="577.6" y2="181.5"/>
<line x1="572.5" y1="119.5" x2="577.6" y2="119.5"/>
<line x1="572.5" y1="58.5" x2="577.6" y2="58.5"/>
</g><g font-size="13.89px">
<text x="581.2" y="432.80">0.0</text>
<text x="581.2" y="371.20">0.5</text>
<text x="581.2" y="309.60">1.0</text>
<text x="581.2" y="248.00">1.5</text>
<text x="581.2" y="186.40">2.0</text>
<text x="581.2" y="124.80">2.5</text>
<text x="581.2" y="63.20">3.0</text>
</g>
<text transform="translate(619.17 286.01) rotate(-90)"><tspan x="0.00" y="-0.98" font-size="13.89px" font-style="oblique">r</tspan><tspan x="8.42" y="-0.98" font-size="13.89px">=</tspan><tspan x="22.76" y="-0.98" font-size="13.89px" font-style="oblique">σ</tspan><tspan x="60.70" y="-0.98" font-size="13.89px">/</tspan><tspan x="65.38" y="-0.98" font-size="13.89px" font-style="oblique">σ</tspan><tspan x="31.56" y="1.30" font-size="9.72px" font-style="oblique">signal</tspan><tspan x="74.18" y="1.30" font-size="9.72px" font-style="oblique">UL</tspan></text>
<text><tspan x="20.00" y="14.90" font-size="12.50px">TChiWqqH: </tspan><tspan x="92.77" y="14.90" font-size="12.50px" font-style="oblique">p</tspan><tspan x="100.70" y="14.90" font-size="12.50px" font-style="oblique">p</tspan><tspan x="111.08" y="14.90" font-size="12.50px">→</tspan><tspan x="123.98" y="14.90" font-size="12.50px" font-style="oblique">χ</tspan><tspan x="126.10" y="14.48" font-size="12.50px">˜</tspan><tspan x="131.53" y="10.11" font-size="8.75px">0</tspan><tspan x="131.53" y="18.32" font-size="8.75px">3</tspan><tspan x="137.41" y="14.90" font-size="12.50px" font-style="oblique">χ</tspan><tspan x="139.53" y="14.48" font-size="12.50px">˜</tspan><tspan x="144.86" y="10.11" font-size="8.75px">±</tspan><tspan x="144.96" y="18.32" font-size="8.75px">2</tspan><tspan x="152.30" y="14.90" font-size="12.50px">,</tspan><tspan x="161.50" y="14.90" font-size="12.50px" font-style="oblique">χ</tspan><tspan x="163.62" y="14.48" font-size="12.50px">˜</tspan><tspan x="169.05" y="10.11" font-size="8.75px">0</tspan><tspan x="169.05" y="18.32" font-size="8.75px">3</tspan><tspan x="175.00" y="14.90" font-size="12.50px" font-style="oblique">χ</tspan><tspan x="177.12" y="14.48" font-size="12.50px">˜</tspan><tspan x="182.45" y="10.11" font-size="8.75px">±</tspan><tspan x="182.55" y="18.32" font-size="8.75px">2</tspan><tspan x="192.35" y="14.90" font-size="12.50px">→</tspan><tspan x="205.00" y="14.90" font-size="12.50px" font-style="oblique">H</tspan><tspan x="214.40" y="14.90" font-size="12.50px" font-style="oblique">W</tspan><tspan x="226.80" y="14.90" font-size="12.50px" font-style="oblique">χ</tspan><tspan x="228.92" y="14.48" font-size="12.50px">˜</tspan><tspan x="234.35" y="10.11" font-size="8.75px">0</tspan><tspan x="234.35" y="18.32" font-size="8.75px">2</tspan><tspan x="242.40" y="14.90" font-size="12.50px">→</tspan><tspan x="255.30" y="14.90" font-size="12.50px" font-style="oblique">χ</tspan><tspan x="257.42" y="14.48" font-size="12.50px">˜</tspan><tspan x="262.85" y="10.11" font-size="8.75px">0</tspan><tspan x="262.85" y="18.32" font-size="8.75px">1</tspan><tspan x="269.00" y="14.90" font-size="12.50px" font-style="oblique">q</tspan><tspan x="276.90" y="14.90" font-size="12.50px" font-style="oblique">q</tspan><tspan x="285.00" y="14.90" font-size="12.50px" font-style="oblique">χ</tspan><tspan x="287.12" y="14.48" font-size="12.50px">˜</tspan><tspan x="292.55" y="10.11" font-size="8.75px">0</tspan><tspan x="292.55" y="18.32" font-size="8.75px">1</tspan></text>
<text><tspan x="387.00" y="14.90" font-size="12.50px">x=m(</tspan><tspan x="421.92" y="14.90" font-size="12.50px" font-style="oblique">χ</tspan><tspan x="424.04" y="14.48" font-size="12.50px">˜</tspan><tspan x="429.47" y="10.11" font-size="8.75px">0</tspan><tspan x="429.47" y="18.32" font-size="8.75px">3</tspan><tspan x="435.35" y="14.90" font-size="12.50px">,</tspan><tspan x="441.76" y="14.90" font-size="12.50px" font-style="oblique">χ</tspan><tspan x="443.88" y="14.48" font-size="12.50px">˜</tspan><tspan x="448.91" y="10.11" font-size="8.75px">±</tspan><tspan x="449.31" y="18.32" font-size="8.75px">2</tspan><tspan x="460.36" y="14.90" font-size="12.50px">), y=m(</tspan><tspan x="508.11" y="14.90" font-size="12.50px" font-style="oblique">χ</tspan><tspan x="510.23" y="14.48" font-size="12.50px">˜</tspan><tspan x="515.66" y="10.11" font-size="8.75px">0</tspan><tspan x="515.66" y="18.32" font-size="8.75px">2</tspan><tspan x="521.53" y="14.90" font-size="12.50px">), y-10=m(</tspan><tspan x="589.70" y="14.90" font-size="12.50px" font-style="oblique">χ</tspan><tspan x="591.82" y="14.48" font-size="12.50px">˜</tspan><tspan x="597.25" y="10.11" font-size="8.75px">0</tspan><tspan x="597.25" y="18.32" font-size="8.75px">1</tspan><tspan x="603.12" y="14.90" font-size="12.50px">)</tspan></text>
<text x="620.8" y="468.2" font-size="13.89px" text-anchor="end">pyhf combining 9 SRs: SR_HM_H*, ...</text>
<text x="128" y="468.2" font-size="12.5px">backend: MA5</text>
<g stroke="#dcdcdc" stroke-width="1.3" stroke-linecap="round" opacity="0.8" fill="none"><line x1="53.3" y1="458.4" x2="56.4" y2="466.4"/><line x1="97.1" y1="443.9" x2="99.5" y2="451.3"/><line x1="92.5" y1="466.4" x2="94.4" y2="469.0"/><line x1="75.5" y1="466.2" x2="77.8" y2="463.0"/><line x1="97.6" y1="462.1" x2="104.3" y2="465.8"/><line x1="95.4" y1="457.7" x2="98.6" y2="463.8"/><line x1="15.6" y1="463.5" x2="14.8" y2="468.9"/><line x1="94.3" y1="468.3" x2="99.2" y2="468.3"/><line x1="7.6" y1="463.4" x2="10.8" y2="461.6"/><line x1="26.5" y1="474.4" x2="30.8" y2="478.4"/><line x1="77.4" y1="455.4" x2="80.4" y2="451.5"/><line x1="86.2" y1="446.2" x2="89.5" y2="443.2"/><line x1="52.7" y1="459.5" x2="59.8" y2="459.4"/><line x1="25.1" y1="468.1" x2="28.1" y2="470.5"/><line x1="88.6" y1="452.5" x2="96.9" y2="451.8"/><line x1="111.6" y1="466.6" x2="115.5" y2="461.5"/><line x1="25.9" y1="448.1" x2="32.1" y2="452.5"/><line x1="27.2" y1="464.7" x2="29.9" y2="466.2"/><line x1="54.3" y1="464.2" x2="62.1" y2="461.7"/><line x1="36.3" y1="449.5" x2="42.9" y2="448.8"/><line x1="71.7" y1="459.4" x2="76.2" y2="464.9"/><line x1="70.3" y1="458.4" x2="72.1" y2="455.3"/><line x1="31.8" y1="467.5" x2="35.3" y2="471.6"/><line x1="68.9" y1="453.1" x2="71.9" y2="450.4"/><line x1="55.1" y1="468.2" x2="60.4" y2="464.1"/><line x1="22.2" y1="456.2" x2="27.9" y2="453.3"/><line x1="21.0" y1="455.5" x2="20.9" y2="460.5"/><line x1="5.4" y1="464.8" x2="11.2" y2="466.1"/><line x1="60.9" y1="470.6" x2="69.0" y2="468.4"/><line x1="101.7" y1="455.8" x2="107.9" y2="452.3"/><line x1="48.9" y1="475.1" x2="53.2" y2="468.2"/><line x1="44.8" y1="465.5" x2="49.8" y2="461.1"/><line x1="16.1" y1="449.0" x2="20.9" y2="451.6"/><line x1="85.1" y1="460.4" x2="85.7" y2="466.0"/><line x1="69.1" y1="460.5" x2="72.7" y2="458.0"/><line x1="36.5" y1="467.7" x2="40.5" y2="466.5"/><line x1="46.3" y1="449.7" x2="53.1" y2="450.4"/><line x1="45.3" y1="464.4" x2="49.7" y2="462.3"/><line x1="15.1" y1="455.9" x2="21.3" y2="461.8"/><line x1="60.7" y1="463.5" x2="63.6" y2="470.2"/><line x1="92.3" y1="450.2" x2="98.7" y2="452.0"/><line x1="37.9" y1="472.2" x2="40.8" y2="471.1"/><line x1="24.3" y1="471.4" x2="28.7" y2="470.2"/><line x1="15.1" y1="459.3" x2="20.5" y2="463.5"/><line x1="77.1" y1="448.8" x2="82.7" y2="447.1"/><line x1="85.9" y1="461.5" x2="89.2" y2="461.3"/><line x1="40.5" y1="469.0" x2="46.2" y2="466.8"/><line x1="90.2" y1="475.1" x2="92.9" y2="477.4"/><line x1="52.0" y1="462.0" x2="57.9" y2="468.1"/><line x1="73.0" y1="458.2" x2="79.9" y2="462.1"/><line x1="73.5" y1="450.5" x2="79.2" y2="445.9"/><line x1="108.1" y1="459.8" x2="115.0" y2="463.2"/><line x1="41.9" y1="459.0" x2="43.9" y2="454.8"/><line x1="99.6" y1="455.6" x2="99.8" y2="458.8"/><line x1="91.3" y1="443.7" x2="90.9" y2="447.6"/><line x1="61.1" y1="464.4" x2="62.9" y2="469.8"/><line x1="80.3" y1="467.5" x2="80.6" y2="473.1"/><line x1="84.5" y1="462.5" x2="84.9" y2="468.6"/><line x1="97.6" y1="464.9" x2="102.3" y2="463.9"/><line x1="62.4" y1="460.8" x2="62.8" y2="465.0"/><line x1="101.4" y1="464.3" x2="108.7" y2="459.2"/><line x1="60.9" y1="453.7" x2="67.5" y2="459.4"/><line x1="100.8" y1="459.1" x2="105.7" y2="459.0"/><line x1="83.3" y1="446.9" x2="85.0" y2="452.7"/><line x1="17.0" y1="460.3" x2="21.5" y2="460.5"/><line x1="74.1" y1="469.7" x2="74.6" y2="476.3"/><line x1="74.3" y1="462.5" x2="74.1" y2="468.6"/><line x1="95.5" y1="447.1" x2="101.5" y2="451.5"/><line x1="35.9" y1="452.3" x2="44.4" y2="452.9"/><line x1="13.6" y1="453.5" x2="17.5" y2="457.5"/><line x1="80.8" y1="451.1" x2="83.5" y2="444.9"/><line x1="63.9" y1="452.7" x2="71.2" y2="455.9"/><line x1="58.6" y1="468.6" x2="62.0" y2="466.2"/><line x1="21.6" y1="454.5" x2="24.5" y2="448.1"/><line x1="14.0" y1="454.3" x2="18.9" y2="457.0"/><line x1="80.9" y1="471.9" x2="82.5" y2="475.7"/><line x1="90.4" y1="451.7" x2="92.8" y2="454.2"/><line x1="24.1" y1="462.9" x2="29.1" y2="463.9"/><line x1="17.0" y1="468.5" x2="20.1" y2="471.0"/><line x1="39.9" y1="459.6" x2="43.3" y2="463.5"/><line x1="48.3" y1="468.1" x2="51.3" y2="469.7"/><line x1="27.7" y1="457.5" x2="31.0" y2="455.0"/><line x1="79.9" y1="474.5" x2="83.5" y2="466.4"/><line x1="17.3" y1="446.7" x2="18.0" y2="452.3"/><line x1="25.3" y1="454.7" x2="28.9" y2="455.4"/><line x1="42.9" y1="458.9" x2="42.8" y2="464.4"/><line x1="110.2" y1="467.7" x2="116.7" y2="463.3"/><line x1="96.4" y1="459.1" x2="100.4" y2="464.3"/><line x1="48.6" y1="459.4" x2="54.3" y2="462.7"/><line x1="105.0" y1="470.0" x2="107.8" y2="463.1"/><line x1="20.7" y1="468.7" x2="25.1" y2="471.7"/><line x1="100.9" y1="457.6" x2="106.7" y2="456.8"/><line x1="12.5" y1="473.3" x2="20.8" y2="471.5"/><line x1="92.9" y1="462.9" x2="95.5" y2="465.4"/><line x1="51.1" y1="465.9" x2="56.6" y2="467.6"/><line x1="76.0" y1="455.4" x2="83.3" y2="453.7"/><line x1="83.6" y1="448.9" x2="87.0" y2="450.2"/><line x1="71.2" y1="454.3" x2="75.8" y2="454.5"/><line x1="85.1" y1="447.4" x2="89.6" y2="447.8"/><line x1="32.7" y1="459.1" x2="37.9" y2="454.9"/><line x1="32.1" y1="471.6" x2="40.1" y2="468.8"/><line x1="71.2" y1="455.1" x2="77.1" y2="454.8"/><line x1="97.1" y1="472.1" x2="102.8" y2="472.0"/><line x1="84.8" y1="456.2" x2="88.6" y2="455.0"/><line x1="62.4" y1="466.7" x2="68.1" y2="473.0"/><line x1="68.4" y1="456.0" x2="69.0" y2="460.9"/><line x1="63.6" y1="458.2" x2="70.3" y2="460.6"/><line x1="103.3" y1="460.7" x2="105.4" y2="467.6"/><line x1="79.3" y1="450.3" x2="82.6" y2="452.4"/><line x1="37.6" y1="456.8" x2="44.0" y2="458.4"/><line x1="91.2" y1="450.2" x2="94.2" y2="454.1"/><line x1="83.2" y1="460.0" x2="86.4" y2="461.3"/><line x1="75.9" y1="461.2" x2="82.3" y2="465.6"/><line x1="87.0" y1="477.4" x2="89.0" y2="473.1"/><line x1="93.8" y1="455.8" x2="100.0" y2="458.0"/><line x1="84.0" y1="476.7" x2="87.2" y2="475.2"/><line x1="93.2" y1="453.4" x2="95.1" y2="460.4"/><line x1="60.1" y1="469.1" x2="64.5" y2="472.1"/><line x1="12.5" y1="463.8" x2="15.2" y2="465.7"/><line x1="93.2" y1="469.2" x2="92.9" y2="477.5"/><line x1="60.2" y1="465.3" x2="65.0" y2="471.5"/><line x1="103.5" y1="448.4" x2="106.2" y2="451.3"/><line x1="37.8" y1="454.4" x2="43.5" y2="456.8"/><line x1="10.6" y1="452.8" x2="14.2" y2="451.8"/><line x1="53.6" y1="467.1" x2="57.5" y2="459.6"/><line x1="26.3" y1="451.3" x2="28.4" y2="457.5"/><line x1="27.9" y1="447.9" x2="32.5" y2="446.9"/><line x1="107.2" y1="460.7" x2="107.3" y2="469.4"/><line x1="30.6" y1="473.2" x2="37.7" y2="477.8"/><line x1="97.1" y1="456.5" x2="101.2" y2="455.4"/><line x1="44.7" y1="460.1" x2="50.4" y2="462.1"/><line x1="102.2" y1="456.4" x2="105.3" y2="459.6"/><line x1="20.7" y1="445.4" x2="25.3" y2="447.2"/><line x1="89.9" y1="444.3" x2="97.1" y2="446.2"/><line x1="9.7" y1="462.7" x2="13.7" y2="463.1"/><line x1="95.7" y1="472.4" x2="99.1" y2="473.4"/><line x1="85.1" y1="464.2" x2="88.6" y2="459.3"/><line x1="25.5" y1="462.4" x2="31.5" y2="461.1"/><line x1="46.2" y1="465.0" x2="53.4" y2="459.5"/><line x1="44.9" y1="460.8" x2="52.3" y2="456.1"/><line x1="81.8" y1="446.4" x2="83.5" y2="452.6"/><line x1="95.1" y1="475.2" x2="101.8" y2="472.3"/><line x1="44.6" y1="460.2" x2="48.6" y2="462.9"/><line x1="24.7" y1="454.4" x2="28.1" y2="455.8"/><line x1="64.8" y1="467.4" x2="68.7" y2="470.5"/><line x1="77.6" y1="467.1" x2="80.8" y2="469.6"/><line x1="55.3" y1="469.8" x2="56.8" y2="466.5"/><line x1="18.3" y1="454.9" x2="20.5" y2="457.6"/><line x1="19.6" y1="446.9" x2="22.4" y2="449.6"/><line x1="102.6" y1="462.7" x2="108.4" y2="467.2"/></g><g fill="#555" stroke="#555" stroke-width="0.8" stroke-linejoin="round" font-size="23px"><text transform="translate(21.8 467.5) scale(0.76 1)">SM</text><text transform="translate(62.3 467.5) scale(0.73 1)">delS</text></g><g fill="none" stroke="#f5281e" stroke-width="1.7" stroke-linecap="round" stroke-linejoin="round"><circle cx="55.8" cy="466.6" r="4.6" fill="#fff" stroke-width="2.0"/><path d="M52.0 469.6 Q48.8 470.6 46.3 474.4"/><path d="M59.6 469.6 Q62.8 470.6 65.4 474.4"/><path d="M37.5 474.4 Q38.2 472.2 39.0 474.4 Q39.7 476.6 40.4 474.4 Q41.2 472.2 41.9 474.4 Q42.6 476.6 43.4 474.4 Q44.1 472.2 44.8 474.4 Q45.6 476.6 46.3 474.4" stroke-width="1.3"/><path d="M65.4 474.4 Q66.2 472.2 66.9 474.4 Q67.7 476.6 68.5 474.4 Q69.2 472.2 70.0 474.4 Q70.8 476.6 71.5 474.4 Q72.3 472.2 73.1 474.4 Q73.8 476.6 74.6 474.4" stroke-width="1.3"/></g>
</svg></body></html>
